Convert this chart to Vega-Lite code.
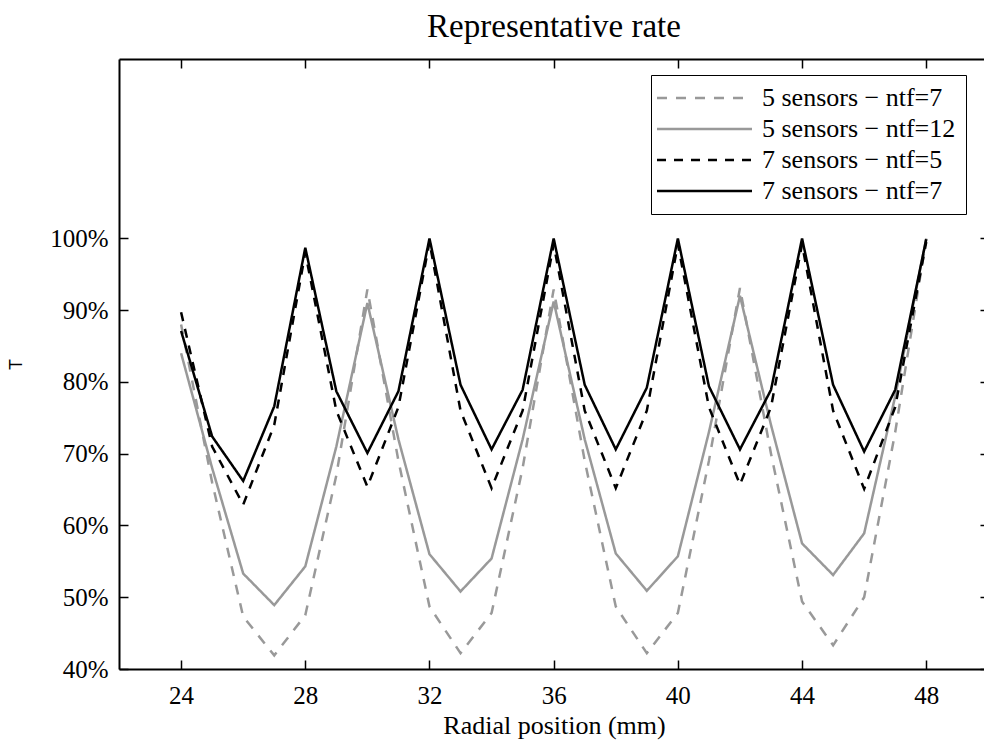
{
  "$schema": "https://vega.github.io/schema/vega-lite/v6.json",
  "autosize": {"type": "none"},
  "padding": {"left": 119, "top": 59, "right": 0, "bottom": 76},
  "width": 865,
  "height": 610,
  "background": "white",
  "config": {
    "view": {"stroke": null},
    "axis": {"grid": false, "domainColor": "black", "tickColor": "black", "labelColor": "black", "titleColor": "black"}
  },
  "title": {
    "text": "Representative rate",
    "font": "Liberation Serif",
    "fontSize": 33,
    "fontWeight": "normal",
    "color": "black",
    "anchor": "middle",
    "frame": "group",
    "baseline": "alphabetic",
    "offset": 21,
    "dy": 33,
    "dx": 2.5
  },
  "data": {
    "values": [
      {"x": 24, "y": 88, "series": "5 sensors − ntf=7"},
      {"x": 25, "y": 66, "series": "5 sensors − ntf=7"},
      {"x": 26, "y": 47.3, "series": "5 sensors − ntf=7"},
      {"x": 27, "y": 41.9, "series": "5 sensors − ntf=7"},
      {"x": 28, "y": 47.5, "series": "5 sensors − ntf=7"},
      {"x": 29, "y": 67, "series": "5 sensors − ntf=7"},
      {"x": 30, "y": 92.9, "series": "5 sensors − ntf=7"},
      {"x": 31, "y": 69, "series": "5 sensors − ntf=7"},
      {"x": 32, "y": 48.7, "series": "5 sensors − ntf=7"},
      {"x": 33, "y": 42.2, "series": "5 sensors − ntf=7"},
      {"x": 34, "y": 47.8, "series": "5 sensors − ntf=7"},
      {"x": 35, "y": 68, "series": "5 sensors − ntf=7"},
      {"x": 36, "y": 92.9, "series": "5 sensors − ntf=7"},
      {"x": 37, "y": 69, "series": "5 sensors − ntf=7"},
      {"x": 38, "y": 48.7, "series": "5 sensors − ntf=7"},
      {"x": 39, "y": 42.2, "series": "5 sensors − ntf=7"},
      {"x": 40, "y": 47.8, "series": "5 sensors − ntf=7"},
      {"x": 41, "y": 69, "series": "5 sensors − ntf=7"},
      {"x": 42, "y": 93.1, "series": "5 sensors − ntf=7"},
      {"x": 43, "y": 70, "series": "5 sensors − ntf=7"},
      {"x": 44, "y": 49.4, "series": "5 sensors − ntf=7"},
      {"x": 45, "y": 43.3, "series": "5 sensors − ntf=7"},
      {"x": 46, "y": 50, "series": "5 sensors − ntf=7"},
      {"x": 47, "y": 73, "series": "5 sensors − ntf=7"},
      {"x": 48, "y": 99.9, "series": "5 sensors − ntf=7"},

      {"x": 24, "y": 84, "series": "5 sensors − ntf=12"},
      {"x": 25, "y": 68, "series": "5 sensors − ntf=12"},
      {"x": 26, "y": 53.3, "series": "5 sensors − ntf=12"},
      {"x": 27, "y": 48.9, "series": "5 sensors − ntf=12"},
      {"x": 28, "y": 54.3, "series": "5 sensors − ntf=12"},
      {"x": 29, "y": 71, "series": "5 sensors − ntf=12"},
      {"x": 30, "y": 91, "series": "5 sensors − ntf=12"},
      {"x": 31, "y": 72, "series": "5 sensors − ntf=12"},
      {"x": 32, "y": 56, "series": "5 sensors − ntf=12"},
      {"x": 33, "y": 50.8, "series": "5 sensors − ntf=12"},
      {"x": 34, "y": 55.4, "series": "5 sensors − ntf=12"},
      {"x": 35, "y": 72, "series": "5 sensors − ntf=12"},
      {"x": 36, "y": 91.2, "series": "5 sensors − ntf=12"},
      {"x": 37, "y": 72, "series": "5 sensors − ntf=12"},
      {"x": 38, "y": 56.1, "series": "5 sensors − ntf=12"},
      {"x": 39, "y": 50.9, "series": "5 sensors − ntf=12"},
      {"x": 40, "y": 55.7, "series": "5 sensors − ntf=12"},
      {"x": 41, "y": 73, "series": "5 sensors − ntf=12"},
      {"x": 42, "y": 92, "series": "5 sensors − ntf=12"},
      {"x": 43, "y": 74, "series": "5 sensors − ntf=12"},
      {"x": 44, "y": 57.5, "series": "5 sensors − ntf=12"},
      {"x": 45, "y": 53.1, "series": "5 sensors − ntf=12"},
      {"x": 46, "y": 58.9, "series": "5 sensors − ntf=12"},
      {"x": 47, "y": 78, "series": "5 sensors − ntf=12"},
      {"x": 48, "y": 100, "series": "5 sensors − ntf=12"},

      {"x": 24, "y": 89.7, "series": "7 sensors − ntf=5"},
      {"x": 25, "y": 71, "series": "7 sensors − ntf=5"},
      {"x": 26, "y": 62.9, "series": "7 sensors − ntf=5"},
      {"x": 27, "y": 74, "series": "7 sensors − ntf=5"},
      {"x": 28, "y": 98, "series": "7 sensors − ntf=5"},
      {"x": 29, "y": 76, "series": "7 sensors − ntf=5"},
      {"x": 30, "y": 65.4, "series": "7 sensors − ntf=5"},
      {"x": 31, "y": 76.5, "series": "7 sensors − ntf=5"},
      {"x": 32, "y": 99.5, "series": "7 sensors − ntf=5"},
      {"x": 33, "y": 76, "series": "7 sensors − ntf=5"},
      {"x": 34, "y": 65.2, "series": "7 sensors − ntf=5"},
      {"x": 35, "y": 76, "series": "7 sensors − ntf=5"},
      {"x": 36, "y": 99.2, "series": "7 sensors − ntf=5"},
      {"x": 37, "y": 76, "series": "7 sensors − ntf=5"},
      {"x": 38, "y": 65.2, "series": "7 sensors − ntf=5"},
      {"x": 39, "y": 76, "series": "7 sensors − ntf=5"},
      {"x": 40, "y": 99.2, "series": "7 sensors − ntf=5"},
      {"x": 41, "y": 76.5, "series": "7 sensors − ntf=5"},
      {"x": 42, "y": 65.7, "series": "7 sensors − ntf=5"},
      {"x": 43, "y": 76.5, "series": "7 sensors − ntf=5"},
      {"x": 44, "y": 99.2, "series": "7 sensors − ntf=5"},
      {"x": 45, "y": 76, "series": "7 sensors − ntf=5"},
      {"x": 46, "y": 65.1, "series": "7 sensors − ntf=5"},
      {"x": 47, "y": 76.5, "series": "7 sensors − ntf=5"},
      {"x": 48, "y": 99.5, "series": "7 sensors − ntf=5"},

      {"x": 24, "y": 87.1, "series": "7 sensors − ntf=7"},
      {"x": 25, "y": 72.4, "series": "7 sensors − ntf=7"},
      {"x": 26, "y": 66.2, "series": "7 sensors − ntf=7"},
      {"x": 27, "y": 76.6, "series": "7 sensors − ntf=7"},
      {"x": 28, "y": 98.7, "series": "7 sensors − ntf=7"},
      {"x": 29, "y": 78.7, "series": "7 sensors − ntf=7"},
      {"x": 30, "y": 70.1, "series": "7 sensors − ntf=7"},
      {"x": 31, "y": 78.7, "series": "7 sensors − ntf=7"},
      {"x": 32, "y": 100, "series": "7 sensors − ntf=7"},
      {"x": 33, "y": 79.6, "series": "7 sensors − ntf=7"},
      {"x": 34, "y": 70.6, "series": "7 sensors − ntf=7"},
      {"x": 35, "y": 78.9, "series": "7 sensors − ntf=7"},
      {"x": 36, "y": 100, "series": "7 sensors − ntf=7"},
      {"x": 37, "y": 79.6, "series": "7 sensors − ntf=7"},
      {"x": 38, "y": 70.6, "series": "7 sensors − ntf=7"},
      {"x": 39, "y": 79.2, "series": "7 sensors − ntf=7"},
      {"x": 40, "y": 100, "series": "7 sensors − ntf=7"},
      {"x": 41, "y": 79.4, "series": "7 sensors − ntf=7"},
      {"x": 42, "y": 70.6, "series": "7 sensors − ntf=7"},
      {"x": 43, "y": 78.9, "series": "7 sensors − ntf=7"},
      {"x": 44, "y": 100, "series": "7 sensors − ntf=7"},
      {"x": 45, "y": 79.6, "series": "7 sensors − ntf=7"},
      {"x": 46, "y": 70.3, "series": "7 sensors − ntf=7"},
      {"x": 47, "y": 78.9, "series": "7 sensors − ntf=7"},
      {"x": 48, "y": 99.9, "series": "7 sensors − ntf=7"}
    ]
  },
  "layer": [
    {
      "mark": {"type": "line", "strokeWidth": 2.5},
      "encoding": {
        "x": {
          "field": "x", "type": "quantitative",
          "scale": {"domain": [22, 49.86], "nice": false, "zero": false},
          "axis": {
            "orient": "bottom",
            "values": [24, 28, 32, 36, 40, 44, 48],
            "tickSize": -9, "tickWidth": 1.5,
            "domainWidth": 2,
            "labelFont": "Liberation Serif", "labelFontSize": 25,
            "labelBaseline": "alphabetic", "labelPadding": 43,
            "labelFlush": false,
            "title": "Radial position (mm)",
            "titleFont": "Liberation Serif", "titleFontSize": 26, "titleFontWeight": "normal",
            "titleBaseline": "alphabetic", "titleAnchor": null, "titleX": 435, "titleY": 64
          }
        },
        "y": {
          "field": "y", "type": "quantitative",
          "scale": {"domain": [40, 125], "nice": false, "zero": false},
          "axis": {
            "orient": "left",
            "values": [40, 50, 60, 70, 80, 90, 100],
            "labelExpr": "datum.value + '%'",
            "tickSize": -9, "tickWidth": 1.5,
            "domainWidth": 2,
            "labelFont": "Liberation Serif", "labelFontSize": 25,
            "labelPadding": 20, "labelFlush": false,
            "title": "T",
            "titleFont": "Liberation Sans", "titleFontSize": 18, "titleFontWeight": "normal",
            "titleAngle": 270, "titleAlign": "center", "titleBaseline": "middle",
            "titleX": -103, "titleY": 305
          }
        },
        "color": {
          "field": "series", "type": "nominal",
          "scale": {
            "domain": ["5 sensors − ntf=7", "5 sensors − ntf=12", "7 sensors − ntf=5", "7 sensors − ntf=7"],
            "range": ["#999999", "#999999", "#000000", "#000000"]
          },
          "legend": {
            "orient": "none", "legendX": 532, "legendY": 16,
            "title": null,
            "symbolType": "M-5,0H5", "symbolSize": 361, "symbolStrokeWidth": 2.5,
            "symbolOffset": 30.5, "labelOffset": 44.5,
            "labelFont": "Liberation Serif", "labelFontSize": 26, "labelColor": "black",
            "labelLimit": 400,
            "padding": 10, "rowPadding": 5,
            "strokeColor": "black", "fillColor": "white"
          }
        },
        "strokeDash": {
          "field": "series", "type": "nominal",
          "scale": {
            "domain": ["5 sensors − ntf=7", "5 sensors − ntf=12", "7 sensors − ntf=5", "7 sensors − ntf=7"],
            "range": [[10, 9], [1, 0], [9, 8], [1, 0]]
          }
        }
      }
    },
    {
      "mark": {"type": "point", "opacity": 0},
      "encoding": {
        "x": {
          "field": "x", "type": "quantitative",
          "scale": {"domain": [22, 49.86], "nice": false, "zero": false},
          "axis": {
            "orient": "top", "values": [24, 28, 32, 36, 40, 44, 48],
            "labels": false, "tickSize": -9, "tickWidth": 1.5, "domainWidth": 2, "title": null
          }
        },
        "y": {
          "field": "y", "type": "quantitative",
          "scale": {"domain": [40, 125], "nice": false, "zero": false},
          "axis": {
            "orient": "right", "values": [40, 50, 60, 70, 80, 90, 100],
            "labels": false, "domain": false, "tickSize": -9, "tickWidth": 1.5, "offset": 5, "title": null
          }
        }
      }
    }
  ],
  "resolve": {"axis": {"x": "independent", "y": "independent"}}
}
